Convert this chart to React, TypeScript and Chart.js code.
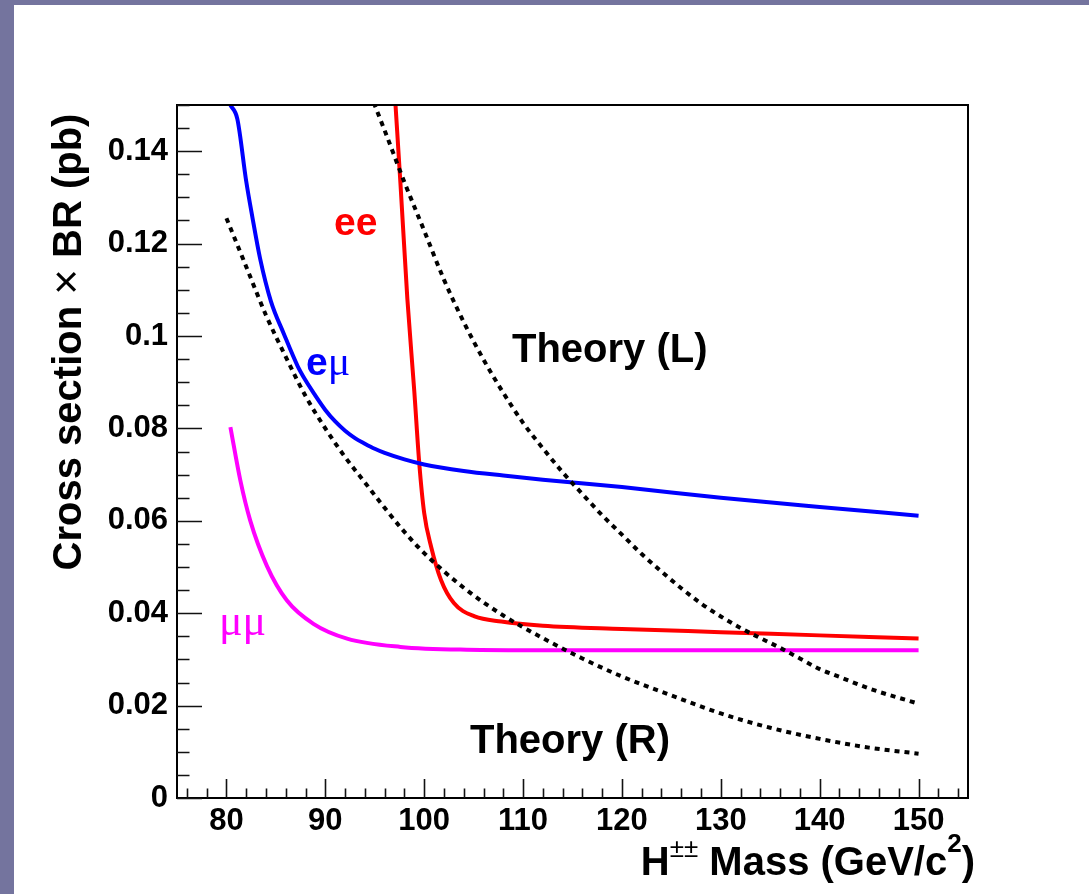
import React, { useEffect, useRef } from 'react';
import { Chart, registerables } from 'chart.js';

Chart.register(...registerables);

// ---------- data ----------
const emuMass = [80.4, 81.1, 82.0, 82.6, 83.4, 84.5, 85.8, 87.2, 88.0, 88.9, 90.0, 91.0, 92.0, 93.0, 94.0, 95.0, 96.0, 98.0, 100, 104, 108, 112, 120, 130, 140, 150];
const emuLimit = [0.150, 0.147, 0.1335, 0.126, 0.1168, 0.1075, 0.1005, 0.0935, 0.0904, 0.0874, 0.0840, 0.0815, 0.0795, 0.0779, 0.0767, 0.0756, 0.0747, 0.0733, 0.0722, 0.0708, 0.0698, 0.0689, 0.0673, 0.0650, 0.0630, 0.0611];

const eeMass = [97.1, 97.6, 98.3, 99.0, 99.5, 100.0, 100.7, 101.7, 103.0, 105.1, 107.8, 112, 120, 130, 140, 150];
const eeLimit = [0.150, 0.133, 0.108, 0.088, 0.0725, 0.0617, 0.0544, 0.0472, 0.0422, 0.0393, 0.0382, 0.0373, 0.0366, 0.0359, 0.0352, 0.0345];

const mumuMass = [80.4, 81.4, 82.4, 84.1, 86.1, 88.8, 92.2, 97.6, 104.3, 112, 120, 130, 140, 150];
const mumuLimit = [0.0803, 0.0688, 0.0601, 0.0502, 0.0428, 0.0377, 0.0345, 0.0327, 0.0321, 0.0320, 0.0320, 0.0320, 0.0320, 0.0320];

const theoryRMass = [80, 82, 84, 86, 88, 90, 92, 94, 96, 98, 100, 104, 108, 112, 116, 120, 125, 130, 135, 140, 145, 150];
const theoryRXsec = [0.1255, 0.1150, 0.1045, 0.0955, 0.0870, 0.0800, 0.0738, 0.0683, 0.0628, 0.0576, 0.0530, 0.0455, 0.0395, 0.0346, 0.0302, 0.0263, 0.0222, 0.0183, 0.0152, 0.0128, 0.0109, 0.0096];

const theoryLMass = [94.9, 96, 98, 100, 102, 104, 106, 108, 110, 112, 114, 116, 118, 120, 122, 124, 126, 128, 130, 132, 134, 136, 138, 140, 142, 145, 150];
const theoryLXsec = [0.1505, 0.1445, 0.1333, 0.1228, 0.1122, 0.1030, 0.0949, 0.0877, 0.0812, 0.0757, 0.0705, 0.0658, 0.0612, 0.0570, 0.0528, 0.0490, 0.0454, 0.0421, 0.0393, 0.0368, 0.0346, 0.0325, 0.0302, 0.0279, 0.0262, 0.0237, 0.0204];

const xTickValues = [80, 90, 100, 110, 120, 130, 140, 150];
const xTickLabels = ['80', '90', '100', '110', '120', '130', '140', '150'];
const yTickValues = [0, 0.02, 0.04, 0.06, 0.08, 0.1, 0.12, 0.14];
const yTickLabels = ['0', '0.02', '0.04', '0.06', '0.08', '0.1', '0.12', '0.14'];

const X_MIN = 75;
const X_MAX = 155;
const Y_MIN = 0;
const Y_MAX = 0.15;

// ---------- style ----------
const W = 1089;
const H = 894;
const SANS = "'Liberation Sans', Arial, Helvetica, sans-serif";
const SERIF = "'Liberation Serif', 'Times New Roman', serif";

type Run = { t: string; f: string; dy?: number };

function runsWidth(ctx: CanvasRenderingContext2D, runs: Run[]) {
  let w = 0;
  for (const r of runs) {
    ctx.font = r.f;
    w += ctx.measureText(r.t).width;
  }
  return w;
}

function drawRuns(ctx: CanvasRenderingContext2D, runs: Run[], x: number, y: number, color: string) {
  ctx.fillStyle = color;
  ctx.textBaseline = 'alphabetic';
  ctx.textAlign = 'left';
  let cx = x;
  for (const r of runs) {
    ctx.font = r.f;
    ctx.fillText(r.t, cx, y + (r.dy || 0));
    cx += ctx.measureText(r.t).width;
  }
}

const decorPlugin = {
  id: 'decor',
  beforeDraw(chart: any) {
    const ctx = chart.ctx as CanvasRenderingContext2D;
    ctx.save();
    ctx.fillStyle = '#74749e';
    ctx.fillRect(0, 0, chart.width, chart.height);
    ctx.fillStyle = '#ffffff';
    ctx.fillRect(14, 5, chart.width - 14, chart.height - 5);
    ctx.restore();
  },
  afterDraw(chart: any) {
    const ctx = chart.ctx as CanvasRenderingContext2D;
    const a = chart.chartArea;
    const xs = chart.scales.x;
    const ys = chart.scales.y;
    ctx.save();
    // frame
    ctx.strokeStyle = '#000';
    ctx.lineWidth = 2;
    ctx.strokeRect(a.left, a.top, a.right - a.left, a.bottom - a.top);
    // inner ticks
    ctx.lineWidth = 1.6;
    ctx.strokeStyle = '#111';
    ctx.beginPath();
    for (let i = 38; i <= 77; i++) {
      const v = i * 2;
      const px = Math.round(xs.getPixelForValue(v)) + 0.5;
      const len = v % 10 === 0 ? 19 : 9.5;
      ctx.moveTo(px, a.bottom);
      ctx.lineTo(px, a.bottom - len);
    }
    for (let i = 0; i <= 30; i++) {
      const v = i * 0.005;
      const py = Math.round(ys.getPixelForValue(v)) + 0.5;
      const len = i % 4 === 0 ? 25 : 12.5;
      ctx.moveTo(a.left, py);
      ctx.lineTo(a.left + len, py);
    }
    ctx.stroke();

    // curve labels
    drawRuns(ctx, [{ t: 'ee', f: `bold 39px ${SANS}` }], 334, 235, '#ff0000');
    drawRuns(ctx, [{ t: 'e', f: `bold 39px ${SANS}` }, { t: 'μ', f: `42px ${SERIF}` }], 306, 375, '#0000ff');
    drawRuns(ctx, [{ t: 'μμ', f: `44px ${SERIF}` }], 219, 635, '#ff00ff');
    drawRuns(ctx, [{ t: 'Theory (L)', f: `bold 40px ${SANS}` }], 512, 362, '#000');
    drawRuns(ctx, [{ t: 'Theory (R)', f: `bold 40px ${SANS}` }], 470, 753, '#000');

    // x axis title (right aligned)
    const xRuns: Run[] = [
      { t: 'H', f: `bold 40px ${SANS}` },
      { t: '±±', f: `26px ${SANS}`, dy: -18 },
      { t: ' Mass (GeV/c', f: `bold 40px ${SANS}` },
      { t: '2', f: `bold 26px ${SANS}`, dy: -23 },
      { t: ')', f: `bold 40px ${SANS}` },
    ];
    const xw = runsWidth(ctx, xRuns);
    drawRuns(ctx, xRuns, 975 - xw, 875, '#000');

    // y axis title (rotated)
    const yRuns: Run[] = [
      { t: 'Cross section ', f: `bold 40px ${SANS}` },
      { t: '×', f: `44px ${SANS}` },
      { t: ' BR (pb)', f: `bold 40px ${SANS}` },
    ];
    const yw = runsWidth(ctx, yRuns);
    ctx.translate(81, 342);
    ctx.rotate(-Math.PI / 2);
    drawRuns(ctx, yRuns, -yw / 2, 0, '#000');
    ctx.restore();
  },
};

function xy(xsArr: number[], ysArr: number[]) {
  return xsArr.map((x, i) => ({ x, y: ysArr[i] }));
}

export default function App() {
  const ref = useRef<HTMLCanvasElement>(null);
  useEffect(() => {
    if (!ref.current) return;
    const lineBase = {
      pointRadius: 0,
      borderWidth: 4,
      fill: false,
      cubicInterpolationMode: 'monotone' as const,
      borderCapStyle: 'butt' as const,
    };
    const chart = new Chart(ref.current, {
      type: 'line',
      data: {
        datasets: [
          { ...lineBase, label: 'Theory (R)', data: xy(theoryRMass, theoryRXsec), borderColor: '#000', borderDash: [5, 5] },
          { ...lineBase, label: 'Theory (L)', data: xy(theoryLMass, theoryLXsec), borderColor: '#000', borderDash: [5, 5] },
          { ...lineBase, label: 'mumu', data: xy(mumuMass, mumuLimit), borderColor: '#ff00ff' },
          { ...lineBase, label: 'emu', data: xy(emuMass, emuLimit), borderColor: '#0000ff' },
          { ...lineBase, label: 'ee', data: xy(eeMass, eeLimit), borderColor: '#ff0000' },
        ],
      },
      options: {
        responsive: false,
        animation: false,
        events: [],
        layout: { padding: { left: 0, top: 105, right: 121, bottom: 0 } },
        plugins: {
          legend: { display: false },
          tooltip: { enabled: false },
          title: { display: false },
        },
        scales: {
          x: {
            type: 'linear',
            position: 'bottom',
            min: X_MIN,
            max: X_MAX,
            afterBuildTicks: (s: any) => {
              s.ticks = xTickValues.map((v) => ({ value: v }));
            },
            afterFit: (s: any) => {
              s.height = 96;
            },
            ticks: {
              autoSkip: false,
              maxRotation: 0,
              minRotation: 0,
              padding: 5,
              color: '#000',
              font: { family: SANS, size: 31, weight: 'bold' },
              callback: (_v: any, i: number) => xTickLabels[i],
            },
            grid: { display: false, drawTicks: false },
            border: { display: false },
          },
          y: {
            type: 'linear',
            position: 'left',
            min: Y_MIN,
            max: Y_MAX,
            afterBuildTicks: (s: any) => {
              s.ticks = yTickValues.map((v) => ({ value: v }));
            },
            afterFit: (s: any) => {
              s.width = 177;
            },
            ticks: {
              autoSkip: false,
              padding: 9,
              color: '#000',
              font: { family: SANS, size: 31, weight: 'bold' },
              callback: (_v: any, i: number) => yTickLabels[i],
            },
            grid: { display: false, drawTicks: false },
            border: { display: false },
          },
        },
      } as any,
      plugins: [decorPlugin],
    });
    return () => chart.destroy();
  }, []);
  return (
    <div style={{ position: 'fixed', left: 0, top: 0, width: W, height: H }}>
      <canvas ref={ref} width={W} height={H} style={{ display: 'block', width: W, height: H }} />
    </div>
  );
}
